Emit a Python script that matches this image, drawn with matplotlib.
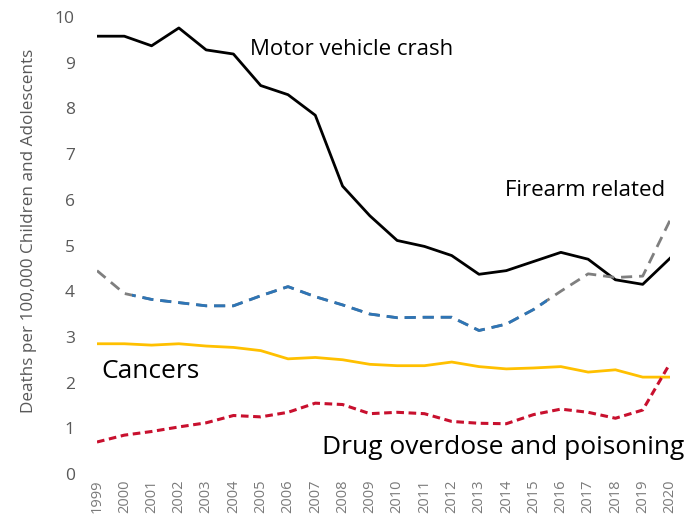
import matplotlib
matplotlib.use("Agg")
import matplotlib.pyplot as plt
from matplotlib.patches import Rectangle

years = list(range(1999, 2021))
motor_vehicle = [9.58, 9.58, 9.37, 9.76, 9.28, 9.19, 8.50, 8.30, 7.85, 6.30, 5.65,
                 5.11, 4.98, 4.78, 4.37, 4.45, 4.65, 4.85, 4.70, 4.25, 4.15, 4.72]
firearm = [4.45, 3.95, 3.82, 3.75, 3.68, 3.68, 3.90, 4.10, 3.88, 3.70, 3.50,
           3.42, 3.43, 3.43, 3.14, 3.28, 3.60, 4.00, 4.38, 4.30, 4.33, 5.55]
cancers = [2.85, 2.85, 2.82, 2.85, 2.80, 2.77, 2.70, 2.52, 2.55, 2.50, 2.40,
           2.37, 2.37, 2.45, 2.35, 2.30, 2.32, 2.35, 2.23, 2.28, 2.12, 2.12]
drug = [0.70, 0.85, 0.93, 1.03, 1.12, 1.28, 1.25, 1.35, 1.55, 1.52, 1.32,
        1.35, 1.32, 1.15, 1.11, 1.10, 1.30, 1.42, 1.35, 1.22, 1.40, 2.42]

plt.rcParams["font.family"] = ["Open Sans", "DejaVu Sans"]

fig = plt.figure(figsize=(6.94, 5.22), dpi=100)
ax = fig.add_axes([97 / 694, 48 / 522, 573 / 694, 457 / 522])

ax.plot(years, motor_vehicle, color="black", lw=2)

# firearm line: gray dashes, blue in the middle years
ax.plot(years, firearm, color="#7f7f7f", lw=2, dashes=(4, 2.5))
blue, = ax.plot(years, firearm, color="#2e75b6", lw=2, dashes=(4, 2.5))
clip = Rectangle((2000.3, 0), 15.2, 10, transform=ax.transData)
blue.set_clip_path(clip)

ax.plot(years, cancers, color="#ffc000", lw=2)
ax.plot(years, drug, color="#c8102e", lw=2.2, dashes=(2.5, 1.5))

ax.set_xlim(1999, 2020)
ax.set_ylim(0, 10)
ax.set_xticks(years)
ax.set_xticklabels([str(y) for y in years], rotation=90)
ax.set_yticks(range(0, 11))
ax.tick_params(axis="x", length=0, labelsize=10.5, labelcolor="#7a7a7a", pad=4)
ax.tick_params(axis="y", length=0, labelsize=12.5, labelcolor="#595959", pad=16)
for s in ax.spines.values():
    s.set_visible(False)

ax.set_ylabel("Deaths per 100,000 Children and Adolescents", fontsize=12.3,
              color="#595959")
ax.yaxis.set_label_coords(-0.105, 0.532)

ax.text(2004.6, 9.28, "Motor vehicle crash", fontsize=16, va="center", ha="left")
ax.text(2013.95, 6.21, "Firearm related", fontsize=16, va="center", ha="left")
ax.text(1999.15, 2.25, "Cancers", fontsize=19, va="center", ha="left")
ax.text(2007.25, 0.59, "Drug overdose and poisoning", fontsize=19, va="center", ha="left")

fig.savefig("out.png", dpi=100)
